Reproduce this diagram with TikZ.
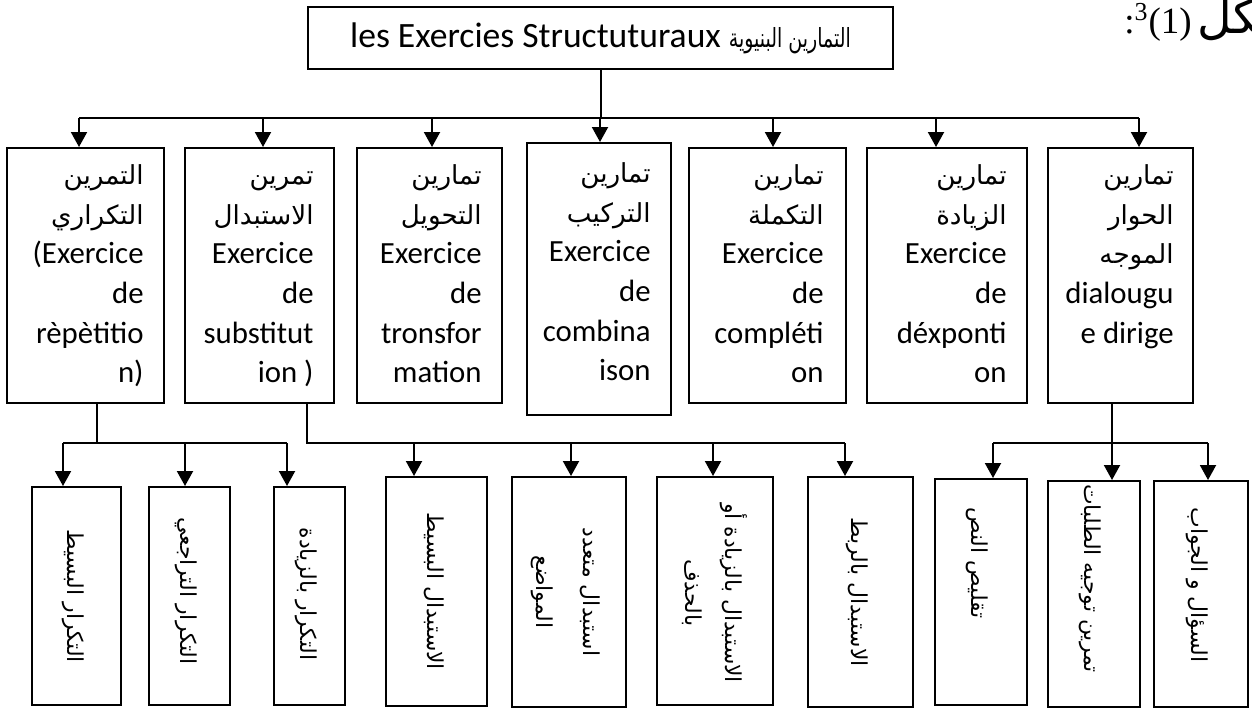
\documentclass[tikz,border=0pt]{standalone}
\usepackage{fontspec}
\setmainfont{Carlito}
\newfontfamily\arabicfont[Script=Arabic,Scale=0.85]{DejaVu Sans}
\newfontfamily\timesfont{Liberation Serif}
\TeXXeTstate=1
\usetikzlibrary{arrows.meta,calc}
\newcommand{\artext}[1]{{\arabicfont\beginR #1\endR}}
\newcommand{\midlines}[1]{\begin{tabular}[t]{@{}r@{}}#1\end{tabular}}
\newcommand{\lowlines}[2][0pt]{\rotatebox{-90}{\hspace*{#1}\begin{tabular}{@{}c@{}}#2\end{tabular}\hspace*{-#1}}}
\tikzstyle{block} = [rectangle, draw, line width=1pt, inner sep=0pt]
\tikzstyle{lowblock} = [block, font=\fontsize{12.9}{23.5}\arabicfont]
\tikzstyle{midtext} = [inner sep=0pt, anchor=north east, font=\fontsize{15.4}{19.85}\selectfont]
\tikzstyle{bar} = [draw, line width=1pt]
\tikzstyle{line} = [draw, line width=1pt, -{Triangle[width=8pt,length=7.5pt]}]

\begin{document}
\begin{tikzpicture}[x=0.5pt, y=-0.5pt]
    \useasboundingbox (0,0) rectangle (1252,709);
    % Place nodes
    \node [block, minimum width=292.5pt, minimum height=31pt, font=\fontsize{17.8}{20}\selectfont] (top) at (600.5,38) {les Exercies Structuturaux \scalebox{0.72}[1]{\fontsize{15.5}{18}\selectfont\artext{التمارين البنيوية}}};
    \node [anchor=base west, inner sep=0pt, font=\fontsize{18.5}{22}\timesfont] (figlbl) at (1124,33) {:\textsuperscript{3}(1)\hspace{3pt}{\fontsize{28}{30}\selectfont\artext{شكل}}};

    \node [block, minimum width=78.5pt, minimum height=127.5pt] (m1) at (85.5,275.5) {};
    \node [block, minimum width=74.5pt, minimum height=127.5pt] (m2) at (259.5,275.5) {};
    \node [block, minimum width=72.5pt, minimum height=127.5pt] (m3) at (429.5,275.5) {};
    \node [block, minimum width=72pt, minimum height=136pt] (m4) at (599,279) {};
    \node [block, minimum width=78.5pt, minimum height=127.5pt] (m5) at (767.5,275.5) {};
    \node [block, minimum width=80pt, minimum height=127.5pt] (m6) at (947,275.5) {};
    \node [block, minimum width=72.5pt, minimum height=127.5pt] (m7) at (1120.5,275.5) {};

    \node [midtext] (t1) at ([xshift=-10.5pt,yshift=-4.6pt]m1.north east) {\midlines{\artext{التمرين}\\ \artext{التكراري}\\ (Exercice\\ de\\ rèpètitio\\ n)}};
    \node [midtext] (t2) at ([xshift=-10.5pt,yshift=-4.6pt]m2.north east) {\midlines{\artext{تمرين}\\ \artext{الاستبدال}\\ Exercice\\ de\\ substitut\\ ion )}};
    \node [midtext] (t3) at ([xshift=-10.5pt,yshift=-4.6pt]m3.north east) {\midlines{\artext{تمارين}\\ \artext{التحويل}\\ Exercice\\ de\\ tronsfor\\ mation}};
    \node [midtext] (t4) at ([xshift=-10.5pt,yshift=-6.1pt]m4.north east) {\midlines{\artext{تمارين}\\ \artext{التركيب}\\ Exercice\\ de\\ combina\\ ison\hspace{3.5pt}}};
    \node [midtext] (t5) at ([xshift=-11.5pt,yshift=-4.6pt]m5.north east) {\midlines{\artext{تمارين}\\ \artext{التكملة}\\ Exercice\\ de\\ compléti\\ on\hspace{7.5pt}}};
    \node [midtext] (t6) at ([xshift=-10.5pt,yshift=-4.6pt]m6.north east) {\midlines{\artext{تمارين}\\ \artext{الزيادة}\\ Exercice\\ de\\ déxponti\\ on}};
    \node [midtext] (t7) at ([xshift=-10pt,yshift=-4.6pt]m7.north east) {\midlines{\artext{تمارين}\\ \artext{الحوار}\\ \artext{الموجه}\\ dialougu\\ e dirige}};

    \node [lowblock, minimum width=44.5pt, minimum height=109pt] (b1) at (76.5,596) {\lowlines{\artext{التكرار البسيط}}};
    \node [lowblock, minimum width=40.5pt, minimum height=109pt] (b2) at (189.5,596) {\lowlines[-2.5pt]{\artext{التكرار التراجعي}}};
    \node [lowblock, minimum width=35.5pt, minimum height=109pt] (b3) at (309.5,596) {\lowlines[-1pt]{\artext{التكرار بالزيادة}}};
    \node [lowblock, minimum width=50.5pt, minimum height=114.5pt] (b4) at (436.5,591.5) {\lowlines{\artext{الاستبدال البسيط}}};
    \node [lowblock, minimum width=57pt, minimum height=115pt] (b5) at (569,592) {\lowlines{\artext{استبدال متعدد}\\ \artext{المواضع}}};
    \node [lowblock, minimum width=58pt, minimum height=114pt] (b6) at (715,591) {\lowlines[1pt]{\artext{الاستبدال بالزيادة أو}\\[-3.5pt] \artext{بالحذف}}};
    \node [lowblock, minimum width=52.5pt, minimum height=115pt] (b7) at (860.5,592) {\lowlines{\artext{الاستبدال بالربط}}};
    \node [lowblock, minimum width=46pt, minimum height=113pt] (b8) at (981,592) {\lowlines[-14.5pt]{\artext{تقليص النص}}};
    \node [lowblock, minimum width=46pt, minimum height=113pt] (b9) at (1094,594) {\lowlines[-7.75pt]{\artext{تمرين توجيه الطلبات}}};
    \node [lowblock, minimum width=47pt, minimum height=113pt] (b10) at (1201,594) {\lowlines[-4.5pt]{\artext{السؤال و الجواب}}};

    % Bus points
    \coordinate (bus) at (600,118);
    \coordinate (a1) at (79,118);
    \coordinate (a2) at (263,118);
    \coordinate (a3) at (432,118);
    \coordinate (a4) at (600,118);
    \coordinate (a5) at (773,118);
    \coordinate (a6) at (936,118);
    \coordinate (a7) at (1139,118);
    \coordinate (r1) at (97,443);
    \coordinate (r2) at (307,443);
    \coordinate (r3) at (1112,443);
    \coordinate (c1) at (63,443);
    \coordinate (c2) at (185,443);
    \coordinate (c3) at (287,443);
    \coordinate (c4) at (414,443);
    \coordinate (c5) at (571,443);
    \coordinate (c6) at (713,443);
    \coordinate (c7) at (845,443);
    \coordinate (c8) at (993,443);
    \coordinate (c10) at (1208,443);

    % Draw edges
    \path [bar] (top) -- (top |- bus);
    \path [bar] (a1) -- (a7);
    \foreach \i in {1,...,7}
        \path [line] (a\i) -- (a\i |- m\i.north);
    \path [bar] (r1 |- m1.south) -- (r1);
    \path [bar] (c1) -- (c3);
    \path [bar] (r2 |- m2.south) -- (r2) -- (c7);
    \path [bar] (c8) -- (c10);
    \foreach \i in {1,...,8,10}
        \path [line] (c\i) -- (c\i |- b\i.north);
    \path [line] (r3 |- m7.south) -- (r3 |- b9.north);
\end{tikzpicture}
\end{document}
